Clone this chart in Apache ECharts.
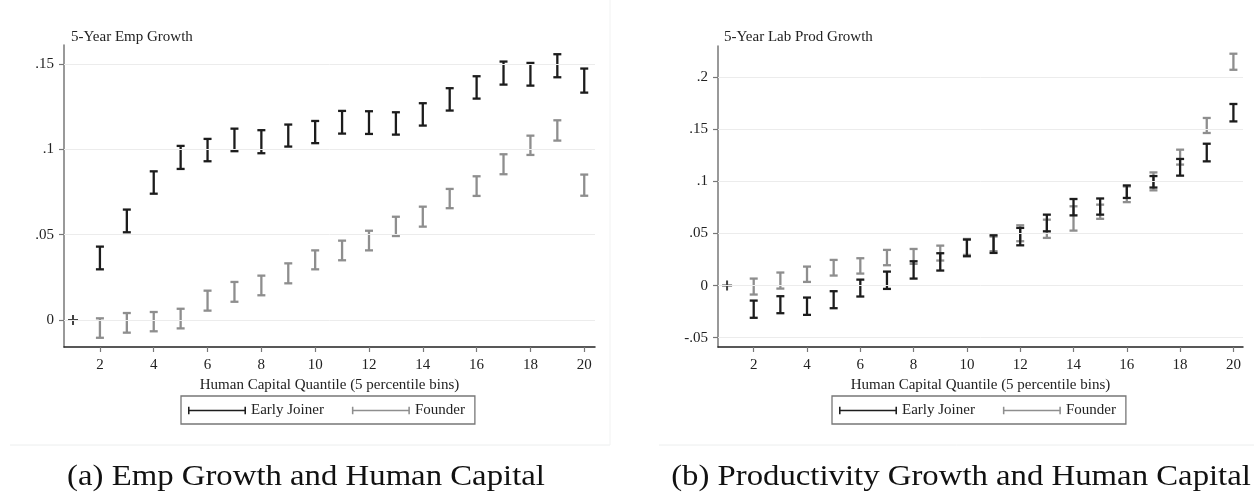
<!DOCTYPE html>
<html>
<head>
<meta charset="utf-8">
<script src="https://cdn.jsdelivr.net/npm/echarts@6/dist/echarts.min.js"></script>
<style>
html,body{margin:0;padding:0;background:#fff;}
#chart{width:1254px;height:494px;}
</style>
</head>
<body>
<div id="chart"></div>
<script>
// ---- data ----
const quantiles = [2,3,4,5,6,7,8,9,10,11,12,13,14,15,16,17,18,19,20];
const baseQuantile = [1, 0];

const empEarlyLo   = [.0297,.0514,.0740,.0885,.0930,.0989,.0977,.1016,.1036,.1092,.1090,.1086,.1139,.1227,.1297,.1379,.1373,.1422,.1332];
const empEarlyHi   = [.0430,.0647,.0871,.1020,.1061,.1121,.1112,.1145,.1166,.1225,.1223,.1217,.1270,.1358,.1428,.1514,.1506,.1557,.1473];
const empFounderLo = [-.0104,-.0074,-.0066,-.0049,.0055,.0107,.0145,.0215,.0297,.0350,.0408,.0492,.0547,.0655,.0727,.0854,.0967,.1051,.0728];
const empFounderHi = [.0010,.0041,.0047,.0066,.0172,.0223,.0260,.0332,.0408,.0465,.0523,.0605,.0664,.0768,.0842,.0971,.1080,.1170,.0852];

const prodEarlyLo   = [-.0309,-.0265,-.0281,-.0217,-.0105,-.0032,.0067,.0144,.0281,.0313,.0386,.0520,.0673,.0680,.0840,.0940,.1054,.1191,.1574];
const prodEarlyHi   = [-.0144,-.0102,-.0115,-.0054,.0057,.0134,.0233,.0310,.0441,.0482,.0553,.0680,.0830,.0835,.0960,.1050,.1214,.1360,.1741];
const prodFounderLo = [-.0086,-.0029,.0035,.0096,.0115,.0195,.0208,.0240,.0294,.0330,.0425,.0457,.0527,.0640,.0800,.0913,.1160,.1463,.2069];
const prodFounderHi = [.0067,.0125,.0182,.0246,.0262,.0342,.0351,.0383,.0447,.0470,.0578,.0632,.0760,.0776,.0950,.1085,.1303,.1607,.2223];

const xTicks = [2,4,6,8,10,12,14,16,18,20];
const empYTicks = [0, 0.05, 0.1, 0.15];
const empYLabels = ['0', '.05', '.1', '.15'];
const prodYTicks = [-0.05, 0, 0.05, 0.1, 0.15, 0.2];
const prodYLabels = ['-.05', '0', '.05', '.1', '.15', '.2'];

const seriesNames = ['Early Joiner', 'Founder'];
const titles = ['5-Year Emp Growth', '5-Year Lab Prod Growth'];
const captions = ['(a) Emp Growth and Human Capital', '(b) Productivity Growth and Human Capital'];
const xName = 'Human Capital Quantile (5 percentile bins)';

// ---- style ----
const FONT = 'Liberation Serif';
const DARK = '#1c1c1c';
const GRAY = '#8e8e8e';

function zip(lo, hi) { return quantiles.map((q, i) => [q, lo[i], hi[i]]); }

function renderBar(params, api) {
  const x = api.value(0), lo = api.value(1), hi = api.value(2);
  const p1 = api.coord([x, lo]);
  const p2 = api.coord([x, hi]);
  const hw = 4;
  const style = { stroke: api.visual('color'), lineWidth: 2.3, fill: null };
  return {
    type: 'group',
    children: [
      { type: 'line', shape: { x1: p1[0], y1: p1[1], x2: p2[0], y2: p2[1] }, style: style },
      { type: 'line', shape: { x1: p1[0] - hw, y1: p1[1], x2: p1[0] + hw, y2: p1[1] }, style: style },
      { type: 'line', shape: { x1: p2[0] - hw, y1: p2[1], x2: p2[0] + hw, y2: p2[1] }, style: style }
    ]
  };
}

function labelFmt(ticks, labels) {
  return function (v) {
    for (let i = 0; i < ticks.length; i++) if (Math.abs(ticks[i] - v) < 1e-9) return labels[i];
    return '';
  };
}

function xAxisCfg(gi, min, max) {
  return {
    type: 'value', gridIndex: gi, min: min, max: max,
    name: xName, nameLocation: 'middle', nameGap: 26,
    nameTextStyle: { fontFamily: FONT, fontSize: 15, color: '#222' },
    axisLine: { show: true, onZero: false, lineStyle: { color: '#222', width: 1.5 } },
    axisTick: { show: true, length: 5, customValues: xTicks, lineStyle: { color: '#777', width: 1.2 } },
    axisLabel: { customValues: xTicks, fontFamily: FONT, fontSize: 15, color: '#222', margin: 11 },
    splitLine: { show: false }
  };
}
function yAxisCfg(gi, min, max, ticks, labels) {
  return {
    type: 'value', gridIndex: gi, min: min, max: max,
    axisLine: { show: true, onZero: false, lineStyle: { color: '#777', width: 1.5 } },
    axisTick: { show: true, length: 5, customValues: ticks, lineStyle: { color: '#777', width: 1.2 } },
    axisLabel: { customValues: ticks, formatter: labelFmt(ticks, labels), fontFamily: FONT, fontSize: 15, color: '#222', margin: 10 },
    splitLine: { show: false }
  };
}

const plusIcon = 'path://M3.2,0h1.6v8h-1.6z M0,3.2h8v1.6h-8z';
const legendIcon = 'path://M0,0h1.6v8H0z M0,3.1h60v1.8H0z M58.4,0h1.6v8h-1.6z';

function baseSeries(gi, ticks) {
  return {
    type: 'scatter', name: 'base', xAxisIndex: gi, yAxisIndex: gi, z: 1,
    symbol: plusIcon, symbolSize: 10, itemStyle: { color: '#111' },
    data: [baseQuantile], silent: true,
    markLine: {
      silent: true, symbol: 'none', label: { show: false },
      lineStyle: { color: '#ececec', width: 1, type: 'solid' },
      data: ticks.map(v => ({ yAxis: v }))
    }
  };
}
function barSeries(gi, name, color, lo, hi) {
  return {
    type: 'custom', name: name, xAxisIndex: gi, yAxisIndex: gi, z: 3,
    itemStyle: { color: color },
    renderItem: renderBar,
    encode: { x: 0, y: [1, 2] },
    data: zip(lo, hi)
  };
}

function legendCfg(left) {
  return {
    left: left, top: 396, orient: 'horizontal',
    data: seriesNames, icon: legendIcon, itemWidth: 58, itemHeight: 8, itemGap: 28,
    borderColor: '#777', borderWidth: 1.3, padding: [7, 10, 6, 7], borderRadius: 0,
    selectedMode: false,
    textStyle: { fontFamily: FONT, fontSize: 15, color: '#222' }
  };
}

function captionText(cx, text) {
  return {
    type: 'text', x: cx, y: 477, scaleX: 1.13, silent: true,
    style: { text: text, fontFamily: FONT, fontSize: 29, fill: '#111', textAlign: 'center', textVerticalAlign: 'middle' }
  };
}

const chart = echarts.init(document.getElementById('chart'), null, { renderer: 'canvas' });
chart.setOption({
  animation: false,
  backgroundColor: '#fff',
  title: [
    { text: titles[0], left: 66, top: 25, textStyle: { fontFamily: FONT, fontSize: 15, fontWeight: 'normal', color: '#222' } },
    { text: titles[1], left: 719, top: 25, textStyle: { fontFamily: FONT, fontSize: 15, fontWeight: 'normal', color: '#222' } }
  ],
  legend: [legendCfg(181), legendCfg(832)],
  grid: [
    { left: 64, top: 45, width: 531, height: 302 },
    { left: 718, top: 46, width: 525, height: 301 }
  ],
  xAxis: [xAxisCfg(0, 0.665, 20.4), xAxisCfg(1, 0.66, 20.36)],
  yAxis: [
    yAxisCfg(0, -0.0158, 0.1611, empYTicks, empYLabels),
    yAxisCfg(1, -0.0589, 0.2297, prodYTicks, prodYLabels)
  ],
  graphic: [
    { type: 'line', shape: { x1: 10, y1: 445, x2: 610, y2: 445 }, style: { stroke: '#eceeee', lineWidth: 1 }, silent: true },
    { type: 'line', shape: { x1: 610, y1: 0, x2: 610, y2: 445 }, style: { stroke: '#f1f2f2', lineWidth: 1 }, silent: true },
    { type: 'line', shape: { x1: 659, y1: 445, x2: 1254, y2: 445 }, style: { stroke: '#eceeee', lineWidth: 1 }, silent: true },
    captionText(306, captions[0]),
    captionText(961, captions[1])
  ],
  series: [
    baseSeries(0, empYTicks),
    barSeries(0, seriesNames[1], GRAY, empFounderLo, empFounderHi),
    barSeries(0, seriesNames[0], DARK, empEarlyLo, empEarlyHi),
    baseSeries(1, prodYTicks),
    barSeries(1, seriesNames[1], GRAY, prodFounderLo, prodFounderHi),
    barSeries(1, seriesNames[0], DARK, prodEarlyLo, prodEarlyHi)
  ]
});
</script>
</body>
</html>
